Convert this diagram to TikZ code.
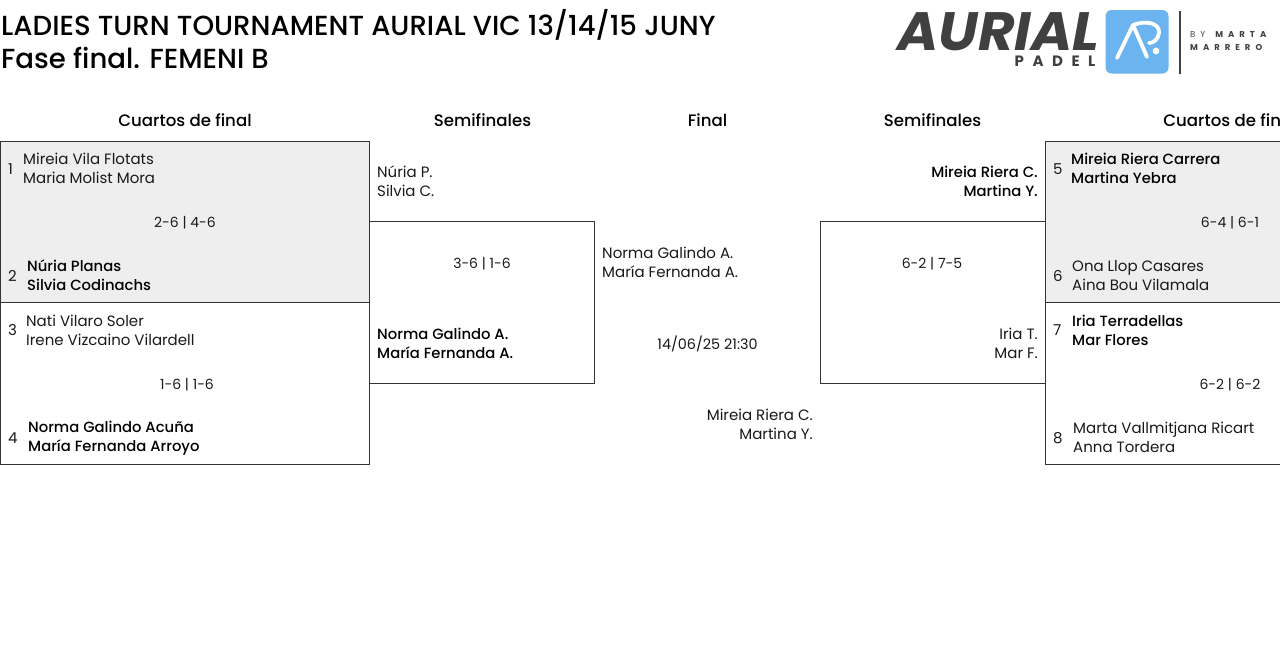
\documentclass[tikz,border=0pt]{standalone}
\usepackage{fontspec}
\setmainfont{Poppins}
\newfontfamily\medfont{Poppins Medium}
\usepackage{xcolor}
\definecolor{matchGrey}{HTML}{EEEEEE}
\definecolor{lineGrey}{HTML}{333333}
\definecolor{logoGrey}{HTML}{404040}
\definecolor{logoBlue}{HTML}{6CB4F0}
\tikzset{
  player/.style={inner sep=0pt,font=\fontsize{15}{19}\selectfont,text=black!90},
  playerl/.style={player,anchor=west,align=left},
  playerr/.style={player,anchor=east,align=right},
  winner/.style={font=\fontsize{14.8}{19}\selectfont\medfont,text=black},
  score/.style={player,anchor=center,font=\fontsize{14}{19}\selectfont},
  roundhead/.style={inner sep=0pt,anchor=center,font=\fontsize{16.6}{20}\selectfont\medfont,text=black},
  titletext/.style={inner sep=0pt,anchor=west,font=\fontsize{27.6}{33}\selectfont\medfont,text=black},
  matchbox/.style={draw=lineGrey,line width=1pt,rectangle,anchor=north west,inner sep=0pt,outer sep=0pt},
}
\begin{document}
\begin{tikzpicture}[x=1pt,y=-1pt]
  \useasboundingbox (0,0) rectangle (1280,664);
  \clip (0,0) rectangle (1280,664);

  % Titles
  \node[titletext] (titleOne) at (1,24.5) {LADIES TURN TOURNAMENT AURIAL VIC 13/14/15 JUNY};
  \node[titletext] (titleTwo) at (1,57.5) {Fase final. FEMENI B};

  % Round headers
  \node[roundhead] (roundOne) at (185,120) {Cuartos de final};
  \node[roundhead] (roundTwo) at (482.5,120) {Semifinales};
  \node[roundhead] (roundThree) at (707.5,120) {Final};
  \node[roundhead] (roundFour) at (932.5,120) {Semifinales};
  \node[roundhead] (roundFive) at (1230,120) {Cuartos de final};

  % Match boxes
  \node[matchbox,fill=matchGrey,minimum width=369pt,minimum height=161pt] (boxOne) at (0.5,141.5) {};
  \node[matchbox,minimum width=369pt,minimum height=162pt] (boxTwo) at (0.5,302.5) {};
  \node[matchbox,minimum width=225pt,minimum height=162pt] (boxThree) at (369.5,221.5) {};
  \node[matchbox,minimum width=225pt,minimum height=162pt] (boxFour) at (820.5,221.5) {};
  \node[matchbox,fill=matchGrey,minimum width=369pt,minimum height=161pt] (boxFive) at (1045.5,141.5) {};
  \node[matchbox,minimum width=369pt,minimum height=162pt] (boxSix) at (1045.5,302.5) {};

  % Left quarter finals
  \node[playerl] (seedOne) at (8,169) {1};
  \node[playerl] (pairOne) at (23,168.5) {Mireia Vila Flotats\\Maria Molist Mora};
  \node[score] (scoreOne) at (185,222.5) {2-6 | 4-6};
  \node[playerl] (seedTwo) at (8,276) {2};
  \node[playerl,winner] (pairTwo) at (27,275.5) {Núria Planas\\Silvia Codinachs};
  \node[playerl] (seedThree) at (8,330) {3};
  \node[playerl] (pairThree) at (26,330.5) {Nati Vilaro Soler\\Irene Vizcaino Vilardell};
  \node[score] (scoreTwo) at (187,384.5) {1-6 | 1-6};
  \node[playerl] (seedFour) at (8,438) {4};
  \node[playerl,winner] (pairFour) at (28,438) {Norma Galindo Acuña\\María Fernanda Arroyo};

  % Left semi final
  \node[playerl] (semiOne) at (377,181.5) {Núria P.\\Silvia C.};
  \node[score] (scoreThree) at (482,263.5) {3-6 | 1-6};
  \node[playerl,winner] (semiTwo) at (377,343.5) {Norma Galindo A.\\María Fernanda A.};

  % Final
  \node[playerl] (finalOne) at (602,262.5) {Norma Galindo A.\\María Fernanda A.};
  \node[score,font=\fontsize{14.4}{19}\selectfont] (finalDate) at (707.5,344) {14/06/25 21:30};
  \node[playerr] (finalTwo) at (813,424.5) {Mireia Riera C.\\Martina Y.};

  % Right semi final
  \node[playerr,winner] (semiThree) at (1038,181.5) {Mireia Riera C.\\Martina Y.};
  \node[score] (scoreFour) at (932,263.5) {6-2 | 7-5};
  \node[playerr] (semiFour) at (1038,343.5) {Iria T.\\Mar F.};

  % Right quarter finals
  \node[playerl] (seedFive) at (1053,169) {5};
  \node[playerl,winner] (pairFive) at (1071,168.5) {Mireia Riera Carrera\\Martina Yebra};
  \node[score] (scoreFive) at (1230,222.5) {6-4 | 6-1};
  \node[playerl] (seedSix) at (1053,276) {6};
  \node[playerl] (pairSix) at (1072,275.5) {Ona Llop Casares\\Aina Bou Vilamala};
  \node[playerl] (seedSeven) at (1053,330) {7};
  \node[playerl,winner] (pairSeven) at (1072,330.5) {Iria Terradellas\\Mar Flores};
  \node[score] (scoreSix) at (1230,384.5) {6-2 | 6-2};
  \node[playerl] (seedEight) at (1053,438) {8};
  \node[playerl] (pairEight) at (1073,437.5) {Marta Vallmitjana Ricart\\Anna Tordera};

  % Logo
  \def\logoGap{\hspace{8.5pt}}
  \def\byGap{\hspace{5pt}}
  \node[inner sep=0pt,anchor=center,xscale=1.04,text=logoGrey,text height=38pt,text depth=0pt,font=\fontsize{54}{54}\selectfont\bfseries\itshape] (logoWord) at (998.5,31) {AURIAL};
  \node[inner sep=0pt,anchor=center,text=logoGrey,font=\fontsize{15}{15}\selectfont\bfseries] (logoPadel) at (1055,61.5) {P\logoGap A\logoGap D\logoGap E\logoGap L};
  \fill[logoBlue,rounded corners=6pt] (1105.5,10) rectangle (1168.5,73.5);
  \draw[white,line width=3.8pt,line cap=round,line join=round] (1117,58) -- (1133,25) -- (1147,57);
  \draw[white,line width=3.8pt,line cap=round] (1133,25) .. controls (1146,20) and (1160,23) .. (1159,33) .. controls (1158,40) and (1153,43) .. (1149,43);
  \fill[white] (1156,51) circle (3.4pt);
  \draw[logoGrey,line width=2pt] (1179.5,11) -- (1179.5,74);
  \node[inner sep=0pt,anchor=west,text=logoGrey,font=\fontsize{8.5}{13.5}\selectfont\bfseries,align=left] (logoBy) at (1190,41) {{\mdseries B\byGap Y}\hspace{10pt}M\byGap A\byGap R\byGap T\byGap A\\M\byGap A\byGap R\byGap R\byGap E\byGap R\byGap O};
\end{tikzpicture}
\end{document}
